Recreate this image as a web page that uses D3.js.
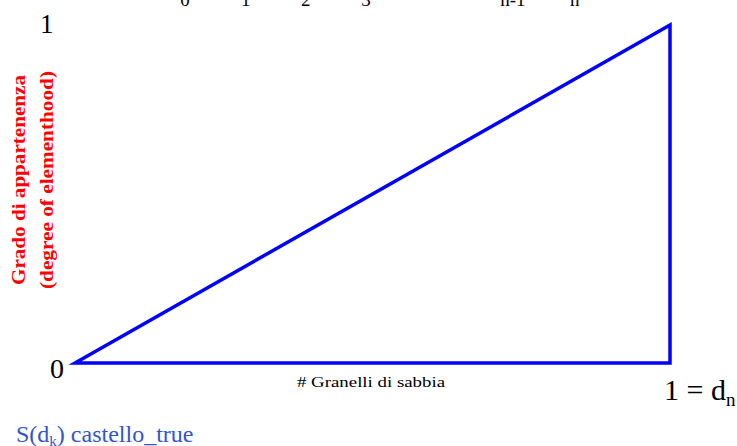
<!DOCTYPE html>
<html><head><meta charset="utf-8">
<script src="https://cdn.jsdelivr.net/npm/d3@7"></script>
<style>html,body{margin:0;padding:0;background:#fff;}svg{display:block;}</style>
</head><body>
<script>
const xVals = [0, 1, 1];
const yVals = [0, 1, 0];
const topTickLabels = ["0", "1", "2", "3", "n-1", "n"];
const topTickPos = [0.185, 0.287, 0.388, 0.489, 0.736, 0.84];

const W = 737, H = 446;
const svg = d3.select("body").append("svg").attr("width", W).attr("height", H);
const x = d3.scaleLinear().domain([0, 1]).range([75, 670]);
const y = d3.scaleLinear().domain([0, 1]).range([363, 25]);
const serif = "Liberation Serif, Times New Roman, serif";

const pts = xVals.map((v, i) => [x(v), y(yVals[i])]);
svg.append("path")
  .attr("d", d3.line()(pts) + "Z")
  .attr("fill", "none").attr("stroke", "#0000ff").attr("stroke-width", 3.5)
  .attr("stroke-linejoin", "miter");

// top tick labels (cut off at top edge, as in the reference)
svg.selectAll("text.top").data(topTickLabels).join("text")
  .attr("class", "top")
  .attr("x", (d, i) => x(topTickPos[i]))
  .attr("y", 6).attr("text-anchor", "middle")
  .attr("font-family", serif).attr("font-size", 19).text(d => d);

svg.append("text").attr("x", 40).attr("y", 33).attr("font-family", serif).attr("font-size", 27).text("1");
svg.append("text").attr("x", 50).attr("y", 378).attr("font-family", serif).attr("font-size", 28).text("0");

const t = svg.append("text").attr("x", 664).attr("y", 400).attr("font-family", serif).attr("font-size", 30);
t.append("tspan").text("1 = d");
t.append("tspan").attr("font-size", 19).attr("dy", 6).text("n");

svg.append("text").attr("x", 297).attr("y", 387)
  .attr("textLength", 148).attr("lengthAdjust", "spacingAndGlyphs")
  .attr("font-family", serif).attr("font-size", 15).text("# Granelli di sabbia");

const s = svg.append("text").attr("x", 16).attr("y", 442).attr("font-family", serif).attr("font-size", 24).attr("fill", "#3355cc");
s.append("tspan").text("S(d");
s.append("tspan").attr("font-size", 15).attr("dy", 4).text("k");
s.append("tspan").attr("dy", -4).text(") castello_true");

const yl = svg.append("text").attr("transform", "translate(0,180) rotate(-90)")
  .attr("text-anchor", "middle").attr("font-family", serif).attr("font-size", 18)
  .attr("font-weight", "bold").attr("fill", "#ff0000");
yl.append("tspan").attr("x", 0).attr("y", 25)
  .attr("textLength", 210).attr("lengthAdjust", "spacingAndGlyphs").text("Grado di appartenenza");
yl.append("tspan").attr("x", 0).attr("y", 53)
  .attr("textLength", 218).attr("lengthAdjust", "spacingAndGlyphs").text("(degree of elementhood)");
</script>
</body></html>
